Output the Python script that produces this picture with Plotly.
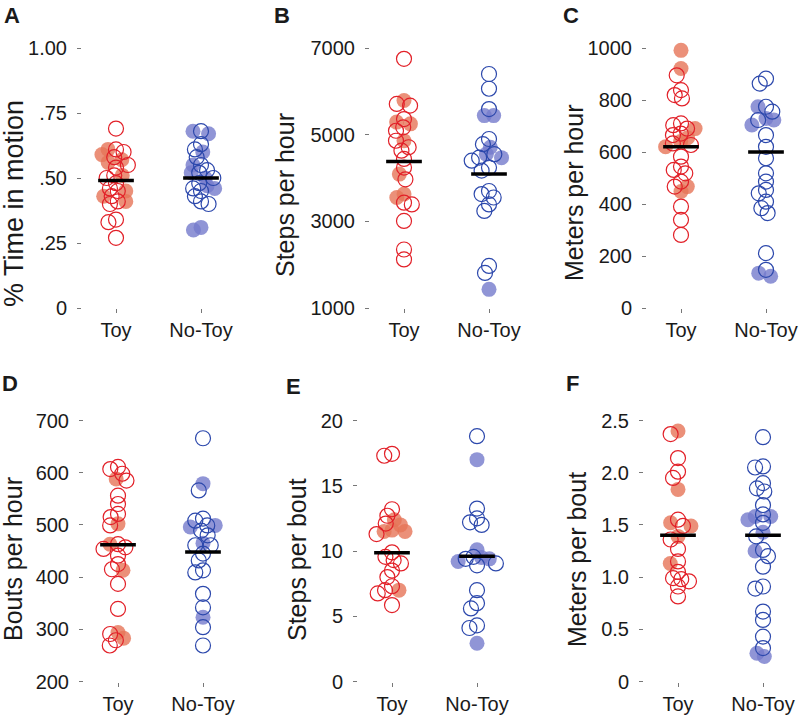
import numpy as np
import plotly.graph_objects as go

# ---------------- data ----------------
groups = ["Toy", "No-Toy"]

A_toy_open = [0.69, 0.61, 0.60, 0.58, 0.55, 0.54, 0.51, 0.50, 0.48, 0.46, 0.45, 0.43, 0.41, 0.40, 0.34, 0.33, 0.27]
A_toy_fill = [0.61, 0.59, 0.57, 0.56, 0.51, 0.45, 0.43, 0.41]
A_notoy_open = [0.68, 0.63, 0.61, 0.58, 0.55, 0.53, 0.52, 0.50, 0.48, 0.46, 0.45, 0.43, 0.41, 0.40]
A_notoy_fill = [0.68, 0.67, 0.60, 0.55, 0.52, 0.50, 0.47, 0.46, 0.31, 0.30]
A_medians = [0.49, 0.50]

B_toy_open = [6750, 5710, 5670, 5360, 5170, 5090, 4860, 4710, 4630, 4440, 4240, 3970, 3430, 3390, 3010, 2350, 2120]
B_toy_fill = [5790, 5290, 5250, 4860, 4090, 3630, 3550]
B_notoy_open = [6400, 6060, 5590, 4900, 4780, 4550, 4470, 4400, 4240, 4170, 3700, 3630, 3550, 3390, 3240, 1970, 1810]
B_notoy_fill = [5440, 5440, 4710, 4550, 4470, 1430]
B_medians = [4380, 4090]

C_toy_open = [895, 838, 819, 806, 710, 703, 690, 671, 665, 633, 627, 582, 544, 531, 518, 486, 467, 390, 339, 281]
C_toy_fill = [991, 921, 690, 655, 640, 620, 467, 448]
C_notoy_open = [882, 863, 774, 755, 723, 665, 620, 576, 518, 486, 454, 441, 409, 384, 365, 211, 147]
C_notoy_fill = [774, 729, 723, 704, 134, 122]
C_medians = [620, 600]

D_toy_open = [611, 607, 598, 585, 556, 540, 521, 515, 499, 463, 457, 454, 441, 425, 415, 387, 339, 291, 279, 269]
D_toy_fill = [588, 502, 463, 413, 294, 283]
D_notoy_open = [666, 566, 512, 508, 499, 489, 480, 461, 461, 445, 432, 413, 409, 368, 342, 304, 269]
D_notoy_fill = [579, 499, 496, 465, 323]
D_medians = [462, 448]

E_toy_open = [17.45, 17.3, 13.2, 12.7, 12.1, 11.3, 9.9, 9.55, 9.3, 9.05, 8.5, 8.0, 7.3, 7.0, 6.75, 5.86]
E_toy_fill = [12.4, 12.0, 11.6, 11.5, 11.5, 7.0]
E_notoy_open = [18.8, 13.25, 12.5, 12.2, 12.0, 9.55, 9.4, 9.05, 8.9, 7.0, 6.0, 5.6, 4.3, 4.1]
E_notoy_fill = [17.0, 10.1, 9.5, 9.4, 9.2, 2.93]
E_medians = [9.86, 9.6]

F_toy_open = [2.37, 2.14, 2.01, 1.95, 1.55, 1.49, 1.36, 1.27, 1.15, 1.05, 0.99, 0.98, 0.96, 0.91, 0.815]
F_toy_fill = [2.40, 1.84, 1.52, 1.49, 1.39, 1.13]
F_notoy_open = [2.34, 2.06, 2.05, 1.90, 1.85, 1.82, 1.69, 1.60, 1.52, 1.39, 1.26, 1.20, 1.10, 0.91, 0.89, 0.67, 0.59, 0.43, 0.32]
F_notoy_fill = [1.58, 1.58, 1.55, 1.43, 1.25, 0.27, 0.24]
F_medians = [1.40, 1.40]

A_ticks = [0, 0.25, 0.5, 0.75, 1.0]
A_ticktext = ["0", ".25", ".50", ".75", "1.00"]
B_ticks = [1000, 3000, 5000, 7000]
B_ticktext = ["1000", "3000", "5000", "7000"]
C_ticks = [0, 200, 400, 600, 800, 1000]
C_ticktext = ["0", "200", "400", "600", "800", "1000"]
D_ticks = [200, 300, 400, 500, 600, 700]
D_ticktext = ["200", "300", "400", "500", "600", "700"]
E_ticks = [0, 5, 10, 15, 20]
E_ticktext = ["0", "5", "10", "15", "20"]
F_ticks = [0, 0.5, 1.0, 1.5, 2.0, 2.5]
F_ticktext = ["0", "0.5", "1.0", "1.5", "2.0", "2.5"]

titles = ["% Time in motion", "Steps per hour", "Meters per hour",
          "Bouts per hour", "Steps per bout", "Meters per bout"]
letters = ["A", "B", "C", "D", "E", "F"]

# ---------------- layout / style ----------------
W, H = 800, 715
FONT = "Liberation Sans, Arial, Helvetica, sans-serif"
TXT = "#1a1a1a"
RED_LINE = "rgb(226,32,40)"
RED_FILL = "rgba(230,116,88,0.8)"
BLUE_LINE = "rgb(44,72,172)"
BLUE_FILL = "rgba(116,122,204,0.8)"
MSIZE = 15
CAT_PX = 85.0  # pixels per category unit

panels = [
    dict(data=(A_toy_open, A_toy_fill, A_notoy_open, A_notoy_fill), med=A_medians,
         xpx=(82, 235), ypx=(48, 308), yr=(0, 1.0), tv=A_ticks, tt=A_ticktext,
         title_xy=(14, 204), title_size=27, letter_xy=(2, 1)),
    dict(data=(B_toy_open, B_toy_fill, B_notoy_open, B_notoy_fill), med=B_medians,
         xpx=(370, 523), ypx=(48, 308), yr=(1000, 7000), tv=B_ticks, tt=B_ticktext,
         title_xy=(285, 195), title_size=25, letter_xy=(272, 1)),
    dict(data=(C_toy_open, C_toy_fill, C_notoy_open, C_notoy_fill), med=C_medians,
         xpx=(647, 800), ypx=(48, 308), yr=(0, 1000), tv=C_ticks, tt=C_ticktext,
         title_xy=(574, 193), title_size=25, letter_xy=(561, 1)),
    dict(data=(D_toy_open, D_toy_fill, D_notoy_open, D_notoy_fill), med=D_medians,
         xpx=(84, 237), ypx=(420.5, 681.5), yr=(200, 700), tv=D_ticks, tt=D_ticktext,
         title_xy=(13, 559), title_size=25, letter_xy=(0, 369)),
    dict(data=(E_toy_open, E_toy_fill, E_notoy_open, E_notoy_fill), med=E_medians,
         xpx=(358, 511), ypx=(420.5, 681.5), yr=(0, 20), tv=E_ticks, tt=E_ticktext,
         title_xy=(297, 560), title_size=25, letter_xy=(284, 372)),
    dict(data=(F_toy_open, F_toy_fill, F_notoy_open, F_notoy_fill), med=F_medians,
         xpx=(644, 797), ypx=(420.5, 681.5), yr=(0, 2.5), tv=F_ticks, tt=F_ticktext,
         title_xy=(577, 560), title_size=25, letter_xy=(564, 369)),
]


def swarm(vals, ppu, mind):
    """Simple beeswarm: offsets (in px) so that centres stay >= mind apart."""
    vals = np.asarray(vals, float)
    xs = np.zeros(len(vals))
    placed = []
    for i in np.argsort(-vals):
        y = vals[i] * ppu
        iv = []
        for (px, py) in placed:
            dy = abs(py - y)
            if dy < mind:
                w = np.sqrt(mind ** 2 - dy ** 2)
                iv.append((px - w, px + w))
        cands = [0.0] + [a for a, b in iv] + [b for a, b in iv]
        cands.sort(key=lambda c: (abs(c), c))
        for c in cands:
            if all(not (a + 1e-6 < c < b - 1e-6) for a, b in iv):
                xs[i] = c
                break
        placed.append((xs[i], y))
    return xs


fig = go.Figure()
annotations = []
layout = {}

for k, p in enumerate(panels):
    n = k + 1
    xa = "x" if n == 1 else f"x{n}"
    ya = "y" if n == 1 else f"y{n}"
    lo, hi = p["yr"]
    ppu = (p["ypx"][1] - p["ypx"][0]) / (hi - lo)
    t_open, t_fill, n_open, n_fill = p["data"]
    for gi, (op, fl, lc, fc) in enumerate([(t_open, t_fill, RED_LINE, RED_FILL),
                                            (n_open, n_fill, BLUE_LINE, BLUE_FILL)]):
        allv = list(op) + list(fl)
        off = swarm(allv, ppu, 8.0) / CAT_PX
        xo = gi + off[:len(op)]
        xf = gi + off[len(op):]
        fig.add_trace(go.Scatter(
            x=xf, y=fl, mode="markers", xaxis=xa, yaxis=ya, showlegend=False,
            cliponaxis=False, hoverinfo="skip",
            marker=dict(size=MSIZE, color=fc, line=dict(width=0))))
        fig.add_trace(go.Scatter(
            x=xo, y=op, mode="markers", xaxis=xa, yaxis=ya, showlegend=False,
            cliponaxis=False, hoverinfo="skip",
            marker=dict(size=MSIZE, color="rgba(255,255,255,0)",
                        line=dict(width=1.2, color=lc))))
        fig.add_trace(go.Scatter(
            x=[gi - 0.21, gi + 0.21], y=[p["med"][gi]] * 2, mode="lines",
            xaxis=xa, yaxis=ya, showlegend=False, cliponaxis=False,
            hoverinfo="skip", line=dict(color="black", width=3.5)))

    key_x = "xaxis" if n == 1 else f"xaxis{n}"
    key_y = "yaxis" if n == 1 else f"yaxis{n}"
    layout[key_x] = dict(
        domain=[p["xpx"][0] / W, p["xpx"][1] / W], range=[-0.4, 1.4],
        anchor=ya, tickmode="array", tickvals=[0, 1], ticktext=groups,
        showgrid=False, zeroline=False, showline=False, automargin=False,
        ticks="outside", ticklen=4, tickwidth=1, tickcolor="#777",
        tickfont=dict(size=20, color=TXT, family=FONT), ticklabelstandoff=0,
        fixedrange=True)
    layout[key_y] = dict(
        domain=[(H - p["ypx"][1]) / H, (H - p["ypx"][0]) / H], range=[lo, hi],
        anchor=xa, tickmode="array", tickvals=p["tv"], ticktext=p["tt"],
        showgrid=False, zeroline=False, showline=False, automargin=False,
        ticks="outside", ticklen=4, tickwidth=1, tickcolor="#777",
        tickfont=dict(size=20, color=TXT, family=FONT), ticklabelstandoff=6,
        fixedrange=True)
    tx, ty = p["title_xy"]
    annotations.append(dict(
        x=tx / W, y=(H - ty) / H, xref="paper", yref="paper", text=titles[k],
        textangle=-90, showarrow=False, xanchor="center", yanchor="middle",
        font=dict(size=p["title_size"], color=TXT, family=FONT)))
    lx, ly = p["letter_xy"]
    annotations.append(dict(
        x=lx / W, y=(H - ly) / H, xref="paper", yref="paper",
        text=f"<b>{letters[k]}</b>", showarrow=False, xanchor="left", yanchor="top",
        font=dict(size=22, color=TXT, family=FONT)))

fig.update_layout(
    width=W, height=H, margin=dict(l=0, r=0, t=0, b=0, autoexpand=False),
    paper_bgcolor="white", plot_bgcolor="white", hovermode=False,
    annotations=annotations, **layout)

fig.write_html(
    "out.html",
    config={"displayModeBar": False, "staticPlot": True},
    post_script="document.body.style.margin='0';document.body.style.padding='0';"
                "document.documentElement.style.overflow='hidden';")
